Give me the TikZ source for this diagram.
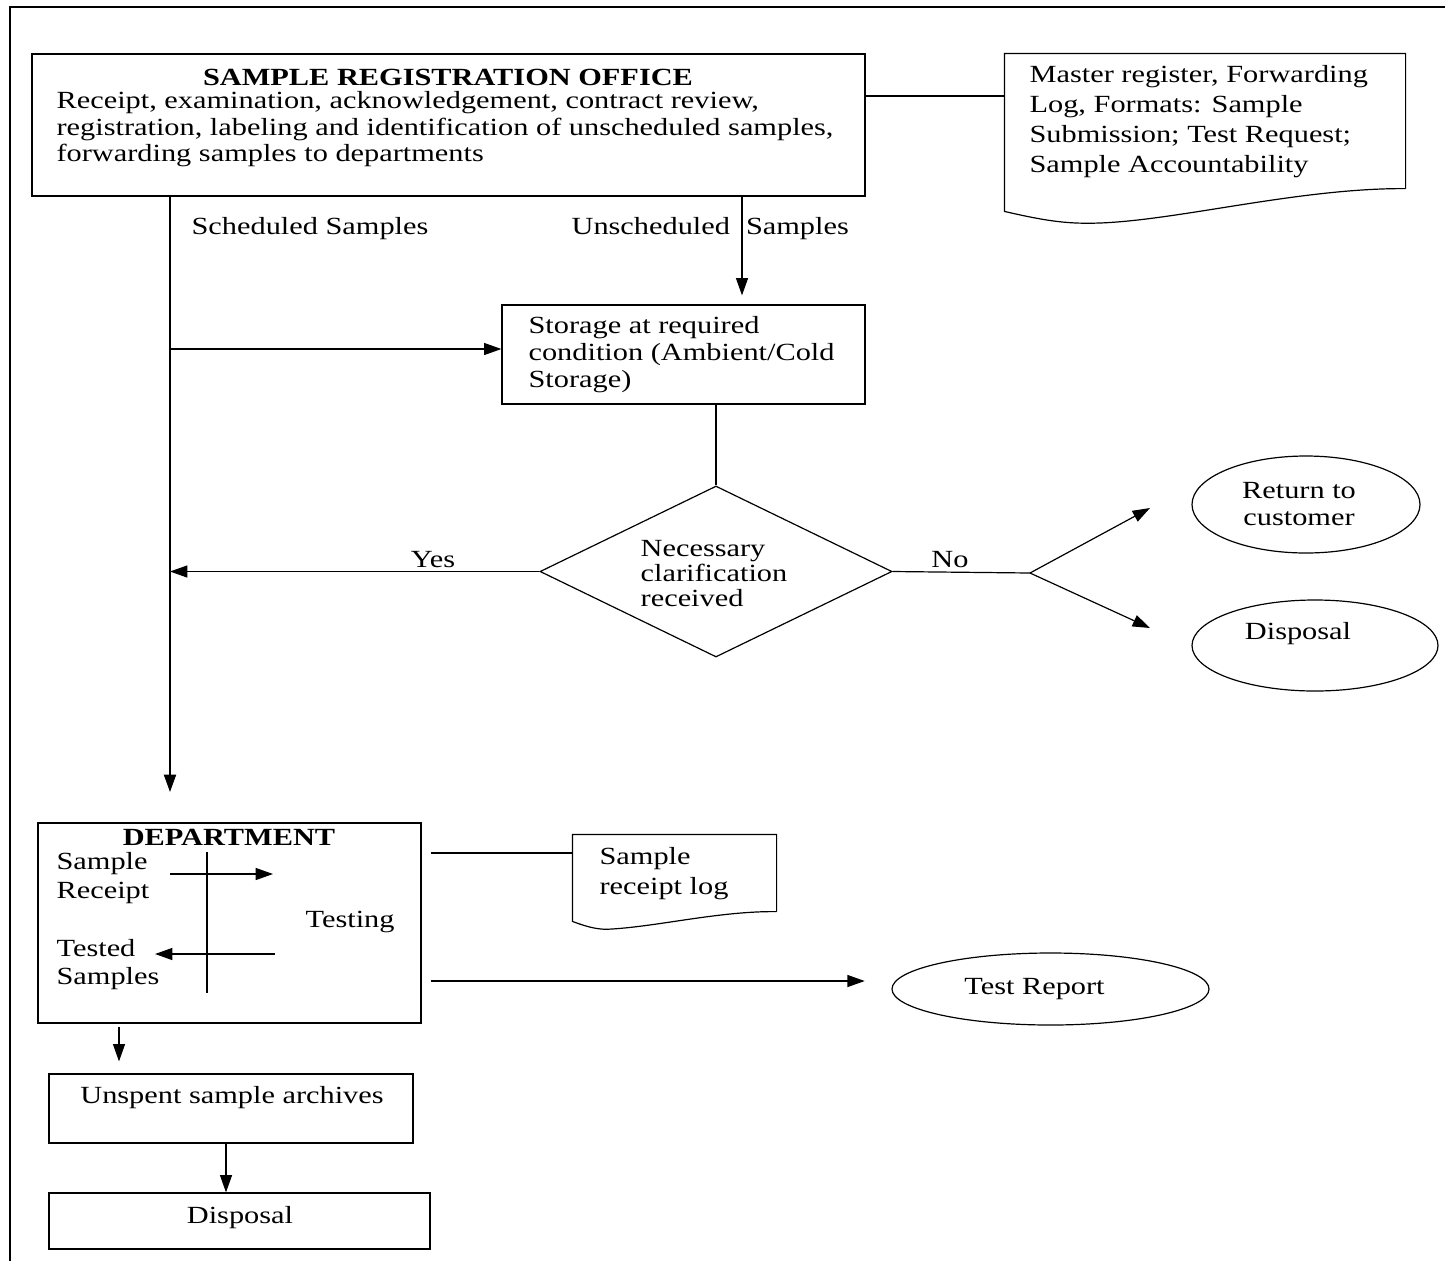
\documentclass[tikz,border=0pt]{standalone}
\usepackage{fontspec}
\setmainfont[FakeStretch=1.23]{Liberation Serif}
\usepackage{tikz}
\usetikzlibrary{shapes.geometric,arrows.meta}

\newcommand\fsz[1]{\fontsize{18.5pt}{#1}\selectfont}

\tikzset{
  box/.style={draw, inner sep=0pt},
  txt/.style={inner sep=0.75pt, anchor=west, align=left, yshift=-1.5pt},
  arr/.style={-{Triangle[length=13pt,width=9pt]}},
}

\begin{document}
\begin{tikzpicture}[x=0.75pt,y=0.75pt,yscale=-1,xscale=1, line width=0.9pt, font=\fsz{20pt}]
\useasboundingbox (0,0) rectangle (1445,1261);

%Frame
\draw[line width=1.4pt] (10,1261) -- (10,7) -- (1445,7);

%Shapes
\node[box, minimum width=624.75pt, minimum height=106.5pt] (office) at (448.5,125) {};
\node[inner sep=0pt, minimum width=300pt, minimum height=100.5pt] (master) at (1205,121) {};
\draw (master.south east) -- (master.north east) -- (master.north west) -- ++(0,158) .. controls (1050,222) and (1070,224) .. (1100,223) .. controls (1180,220) and (1300,188) .. (master.south east);
\node[box, minimum width=272.25pt, minimum height=74.25pt] (stor) at (683.5,354.5) {};
\node[diamond, draw, inner sep=0pt, minimum width=264pt, minimum height=128.25pt] (dec) at (716,571.5) {};
\node[draw, ellipse, inner sep=0pt, minimum width=171pt, minimum height=72.75pt] (ret) at (1306,504.5) {};
\node[draw, ellipse, inner sep=0pt, minimum width=184.5pt, minimum height=68.25pt] (dis) at (1315,645.5) {};
\node[box, minimum width=287.25pt, minimum height=150pt] (dept) at (229.5,923) {};
\node[inner sep=0pt, minimum width=152.25pt, minimum height=57pt] (log) at (674.5,873) {};
\draw (log.south east) -- (log.north east) -- (log.north west) -- ++(0,87) .. controls (590,928) and (600,930) .. (612,929) .. controls (660,926) and (720,911) .. (log.south east);
\node[draw, ellipse, inner sep=0pt, minimum width=237.75pt, minimum height=54pt] (rep) at (1050.5,989) {};
\node[box, minimum width=273pt, minimum height=51.75pt] (unsp) at (231,1108.5) {};
\node[box, minimum width=285.75pt, minimum height=42pt] (dbox) at (239.5,1221) {};

% Text Node
\node[txt, anchor=center, font=\bfseries\fsz{20pt}] (officet) at (448,75) {SAMPLE REGISTRATION OFFICE};
\node[txt, font=\fsz{19.9pt}] (officeb) at (55,127.5) {Receipt, examination, acknowledgement, contract review,\\ registration, labeling and identification of unscheduled samples,\\ forwarding samples to departments};
\node[txt, font=\fsz{22.5pt}] (mastert) at (1028,120) {Master register, Forwarding\\ Log, Formats: Sample\\ Submission; Test Request;\\ Sample Accountability};
\node[txt] (schedl) at (190,227) {Scheduled Samples};
\node[txt] (unschl) at (570,227) {Unscheduled\hspace{12pt}Samples};
\node[txt, font=\fsz{20.25pt}] (stort) at (527,353) {Storage at required\\ condition (Ambient/Cold\\ Storage)};
\node[txt, anchor=center, font=\fsz{19.1pt}] (dect) at (714,571.5) {Necessary\\ clarification\\ received};
\node[txt, anchor=center] (yes) at (433,558) {Yes};
\node[txt, anchor=center] (no) at (950,558) {No};
\node[txt, anchor=center, align=center, font=\fsz{20.25pt}] (rett) at (1299,502.5) {Return to\\ customer};
\node[txt, anchor=center] (dist) at (1298,632) {Disposal};
\node[txt, anchor=center, font=\bfseries\fsz{20pt}] (deptt) at (229,835) {DEPARTMENT};
\node[txt, font=\fsz{21.75pt}] (rcpt) at (55,876.5) {Sample\\ Receipt};
\node[txt] (testg) at (304,920) {Testing};
\node[txt, font=\fsz{21pt}] (tested) at (55,963) {Tested\\ Samples};
\node[txt, font=\fsz{22.5pt}] (logt) at (598,872) {Sample\\ receipt log};
\node[txt, anchor=center] (rept) at (1034.5,987) {Test Report};
\node[txt, anchor=center] (unspt) at (232,1096) {Unspent sample archives};
\node[txt, anchor=center] (dboxt) at (240,1216) {Disposal};

%Connectors
\coordinate (mk) at (935,96);
\draw (office.east |- mk) -- (master.west |- mk);
\coordinate (sched) at (170,792);
\draw[arr, line width=1.4pt] (office.south -| sched) -- (sched);
\coordinate (sk) at (300,349);
\draw[arr] (sched |- sk) -- (stor.west |- sk);
\coordinate (unsch) at (742,250);
\draw[arr, shorten >=6.75pt] (office.south -| unsch) -- (stor.north -| unsch);
\draw (stor.south -| dec.north) -- (dec.north);
\draw[arr] (dec.west) -- (dec.west -| sched);
\coordinate (fork) at (1030,573);
\draw (dec.east) -- (fork);
\coordinate (toret) at (1150,508);
\coordinate (todis) at (1150,628);
\draw[arr] (fork) -- (toret);
\draw[arr] (fork) -- (todis);

%Inside department
\draw (207,852) -- (207,993);
\coordinate (r1) at (170,874);
\coordinate (r2) at (273,874);
\coordinate (t1) at (275,954);
\coordinate (t2) at (155,954);
\draw[arr] (r1) -- (r2);
\draw[arr] (t1) -- (t2);

\coordinate (lk) at (500,853);
\draw[shorten <=6.75pt] (dept.east |- lk) -- (log.west |- lk);
\coordinate (rk) at (600,981);
\draw[arr, shorten <=6.75pt, shorten >=20pt] (dept.east |- rk) -- (rep.west |- rk);
\coordinate (ac) at (119,1040);
\draw[arr, shorten <=2.25pt, shorten >=9pt] (dept.south -| ac) -- (unsp.north -| ac);
\coordinate (dc) at (226,1170);
\draw[arr] (unsp.south -| dc) -- (dbox.north -| dc);

\end{tikzpicture}
\end{document}
